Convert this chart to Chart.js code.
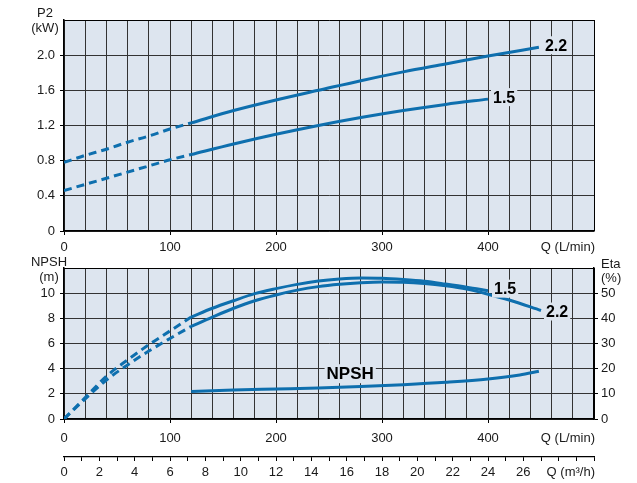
<!DOCTYPE html>
<html>
<head>
<meta charset="utf-8">
<script src="https://cdn.jsdelivr.net/npm/chart.js@4.4.0/dist/chart.umd.min.js"></script>
<style>
    body { margin: 0; background: #fff; }
    #wrap { position: relative; width: 637px; height: 483px; }
    .box { position: absolute; left: 0; width: 637px; }
</style>
</head>
<body>
<div id="wrap">
    <div class="box" style="top:0;height:262px"><canvas id="powerChart"></canvas></div>
    <div class="box" style="top:250px;height:233px"><canvas id="effChart"></canvas></div>
</div>
<script>
// Power curves P2 (kW) vs Q (L/min)
const qDash = [0, 20, 40, 60, 80, 100, 120];
const p22Dash = [0.78, 0.86, 0.93, 1.01, 1.08, 1.16, 1.23];
const p15Dash = [0.46, 0.53, 0.60, 0.67, 0.74, 0.81, 0.87];
const qP22 = [120, 160, 200, 240, 280, 320, 360, 400, 448];
const p22 = [1.23, 1.37, 1.49, 1.60, 1.71, 1.81, 1.90, 1.99, 2.09];
const qP15 = [120, 160, 200, 240, 280, 320, 360, 400];
const p15 = [0.87, 0.99, 1.10, 1.20, 1.29, 1.37, 1.44, 1.50];

// Efficiency curves Eta (%) and NPSH (m)
const eta15Dash = [0, 8.5, 17, 23.5, 29.5, 35, 40.5];
const eta22Dash = [0, 8, 15.5, 21.5, 27, 32, 36.8];
const qEta15 = [120, 140, 160, 180, 200, 220, 240, 260, 280, 300, 320, 340, 360, 380, 400];
const eta15 = [40.5, 44, 47, 49.8, 51.8, 53.5, 54.8, 55.6, 56.0, 55.9, 55.4, 54.7, 53.6, 52.4, 51.0];
const qEta22 = [120, 140, 160, 180, 200, 220, 240, 260, 280, 300, 320, 340, 360, 380, 400, 420, 450];
const eta22 = [36.8, 40.5, 44, 47, 49.3, 51.2, 52.6, 53.5, 54.1, 54.4, 54.3, 53.8, 52.9, 51.6, 49.6, 47.3, 43.1];
const qNpsh = [120, 160, 200, 240, 280, 320, 360, 400, 430, 448];
const npsh = [2.19, 2.30, 2.38, 2.46, 2.58, 2.73, 2.92, 3.18, 3.50, 3.80];

const BLUE = '#0e6fae';
const BG = '#dde5ef';
const GRID = '#333333';
const TEXT = '#1a1a1a';

Chart.defaults.font.family = '"Liberation Sans", Arial, sans-serif';
Chart.defaults.font.size = 13;
Chart.defaults.color = TEXT;

function pts(qs, vals) {
    return qs.map((q, i) => ({ x: q, y: vals[i] }));
}

function curve(qs, vals, dashed, axis) {
    return {
        data: pts(qs, vals),
        borderColor: BLUE,
        borderWidth: 3,
        borderDash: dashed ? [8, 5] : [],
        pointRadius: 0,
        tension: 0.4,
        cubicInterpolationMode: 'monotone',
        yAxisID: axis || 'y'
    };
}

const plotBg = {
    id: 'plotBg',
    beforeDraw(chart) {
        const { ctx, chartArea: a } = chart;
        ctx.save();
        ctx.fillStyle = BG;
        ctx.fillRect(a.left, a.top, a.right - a.left, a.bottom - a.top);
        ctx.restore();
    }
};

// text labels: [text, q, value, axis, dx, dy, size, align]
function curveLabels(list) {
    return {
        id: 'curveLabels',
        afterDatasetsDraw(chart) {
            const ctx = chart.ctx;
            ctx.save();
            list.forEach(l => {
                const x = chart.scales.x.getPixelForValue(l[1]) + l[4];
                const y = chart.scales[l[3]].getPixelForValue(l[2]) + l[5];
                ctx.font = 'bold ' + l[6] + 'px "Liberation Sans", Arial, sans-serif';
                const w = ctx.measureText(l[0]).width;
                const left = l[7] === 'center' ? x - w / 2 : x;
                ctx.fillStyle = BG;
                ctx.fillRect(left - 2, y - l[6] / 2 - 1, w + 4, l[6] + 2);
                ctx.fillStyle = '#000';
                ctx.textAlign = 'left';
                ctx.textBaseline = 'middle';
                ctx.fillText(l[0], left, y + 1);
            });
            ctx.restore();
        }
    };
}

function axisTitles(list) {
    return {
        id: 'axisTitles',
        afterDraw(chart) {
            const ctx = chart.ctx;
            const a = chart.chartArea;
            ctx.save();
            ctx.font = '13px "Liberation Sans", Arial, sans-serif';
            ctx.fillStyle = TEXT;
            ctx.textBaseline = 'middle';
            list.forEach(t => {
                ctx.textAlign = t.align;
                ctx.fillText(t.text, t.x(a, chart), t.y(a, chart));
            });
            ctx.restore();
        }
    };
}

function qAxis(height, pad, weight) {
    return {
        type: 'linear',
        position: 'bottom',
        min: 0,
        max: 500,
        weight: weight,
        afterFit: s => { s.height = height; },
        ticks: {
            stepSize: 20,
            autoSkip: false,
            maxRotation: 0,
            minRotation: 0,
            padding: pad,
            callback: v => (v % 100 === 0 && v < 500) ? String(v) : ''
        },
        grid: {
            color: c => c.tick && c.tick.value === 500 ? '#000' : GRID,
            lineWidth: 1,
            tickLength: 4,
            tickColor: c => (c.tick && c.tick.value % 100 === 0 && c.tick.value < 500) ? '#000' : 'rgba(0,0,0,0)'
        },
        border: { color: '#000', width: 1.5 }
    };
}

new Chart(document.getElementById('powerChart').getContext('2d'), {
    type: 'line',
    data: {
        datasets: [
            curve(qDash, p22Dash, true),
            curve(qDash, p15Dash, true),
            curve(qP22, p22, false),
            curve(qP15, p15, false)
        ]
    },
    options: {
        responsive: true,
        maintainAspectRatio: false,
        animation: false,
        layout: { autoPadding: false, padding: { left: 0, right: 43, top: 20, bottom: 0 } },
        plugins: { legend: { display: false }, tooltip: { enabled: false } },
        scales: {
            x: qAxis(31, 5, 0),
            y: {
                type: 'linear',
                min: 0,
                max: 2.4,
                afterFit: s => { s.width = 64; },
                ticks: {
                    stepSize: 0.2,
                    padding: 5,
                    callback: v => {
                        const k = Math.round(v * 10);
                        if (k % 4 !== 0 || k > 20) return '';
                        return k === 0 ? '0' : (k / 10).toFixed(1);
                    }
                },
                grid: {
                    color: c => c.tick && Math.round(c.tick.value * 10) === 24 ? '#000' : GRID,
                    lineWidth: 1,
                    tickLength: 4,
                    tickColor: c => (c.tick && Math.round(c.tick.value * 10) % 4 === 0 && c.tick.value < 2.1) ? '#000' : 'rgba(0,0,0,0)'
                },
                border: { color: '#000', width: 1.5 }
            }
        }
    },
    plugins: [
        plotBg,
        curveLabels([
            ['2.2', 448, 2.09, 'y', 6, -2, 16, 'left'],
            ['1.5', 400, 1.50, 'y', 5, -2, 16, 'left']
        ]),
        axisTitles([
            { text: 'P2', align: 'center', x: a => a.left - 19, y: a => a.top - 7 },
            { text: '(kW)', align: 'center', x: a => a.left - 19, y: a => a.top + 8 },
            { text: 'Q (L/min)', align: 'right', x: a => a.right + 1, y: a => a.bottom + 16 }
        ])
    ]
});

new Chart(document.getElementById('effChart').getContext('2d'), {
    type: 'line',
    data: {
        datasets: [
            curve(qDash, eta15Dash, true, 'y1'),
            curve(qDash, eta22Dash, true, 'y1'),
            curve(qEta15, eta15, false, 'y1'),
            curve(qEta22, eta22, false, 'y1'),
            curve(qNpsh, npsh, false, 'y')
        ]
    },
    options: {
        responsive: true,
        maintainAspectRatio: false,
        animation: false,
        layout: { autoPadding: false, padding: { left: 0, right: 0, top: 18, bottom: 0 } },
        plugins: { legend: { display: false }, tooltip: { enabled: false } },
        scales: {
            x: qAxis(38, 8, 0),
            x2: {
                type: 'linear',
                position: 'bottom',
                min: 0,
                max: 30,
                weight: 1,
                afterFit: s => { s.height = 26; },
                ticks: {
                    stepSize: 1,
                    autoSkip: false,
                    maxRotation: 0,
                    minRotation: 0,
                    padding: 4,
                    callback: v => (v % 2 === 0 && v <= 26) ? String(v) : ''
                },
                grid: { drawOnChartArea: false, tickLength: 4, tickColor: '#000', lineWidth: 1 },
                border: { color: '#000', width: 1.2 }
            },
            y: {
                type: 'linear',
                position: 'left',
                min: 0,
                max: 12,
                afterFit: s => { s.width = 64; },
                ticks: {
                    stepSize: 1,
                    padding: 5,
                    callback: v => (v % 2 === 0 && v <= 10) ? String(v) : ''
                },
                grid: {
                    color: c => c.tick && c.tick.value === 12 ? '#000' : GRID,
                    lineWidth: 1,
                    tickLength: 4,
                    tickColor: c => (c.tick && c.tick.value % 2 === 0 && c.tick.value <= 10) ? '#000' : 'rgba(0,0,0,0)'
                },
                border: { color: '#000', width: 1.5 }
            },
            y1: {
                type: 'linear',
                position: 'right',
                min: 0,
                max: 60,
                afterFit: s => { s.width = 43; },
                ticks: {
                    stepSize: 10,
                    padding: 3,
                    callback: v => v <= 50 ? String(v) : ''
                },
                grid: {
                    drawOnChartArea: false,
                    tickLength: 4,
                    tickColor: c => (c.tick && c.tick.value <= 50) ? '#000' : 'rgba(0,0,0,0)'
                },
                border: { color: '#000', width: 1.5 }
            }
        }
    },
    plugins: [
        plotBg,
        curveLabels([
            ['1.5', 400, 51.0, 'y1', 6, -2, 16, 'left'],
            ['2.2', 450, 43.1, 'y1', 5, 1, 16, 'left'],
            ['NPSH', 270, 3.6, 'y', 0, 0, 17, 'center']
        ]),
        axisTitles([
            { text: 'NPSH', align: 'center', x: a => a.left - 15, y: a => a.top - 6 },
            { text: '(m)', align: 'center', x: a => a.left - 15, y: a => a.top + 9.5 },
            { text: 'Eta', align: 'left', x: a => a.right + 7, y: a => a.top - 3.5 },
            { text: '(%)', align: 'left', x: a => a.right + 7, y: a => a.top + 10.5 },
            { text: 'Q (L/min)', align: 'right', x: a => a.right + 1, y: a => a.bottom + 19 },
            { text: 'Q (m³/h)', align: 'right', x: a => a.right + 1, y: (a, ch) => ch.scales.x2.top + 15 }
        ])
    ]
});
</script>
</body>
</html>
